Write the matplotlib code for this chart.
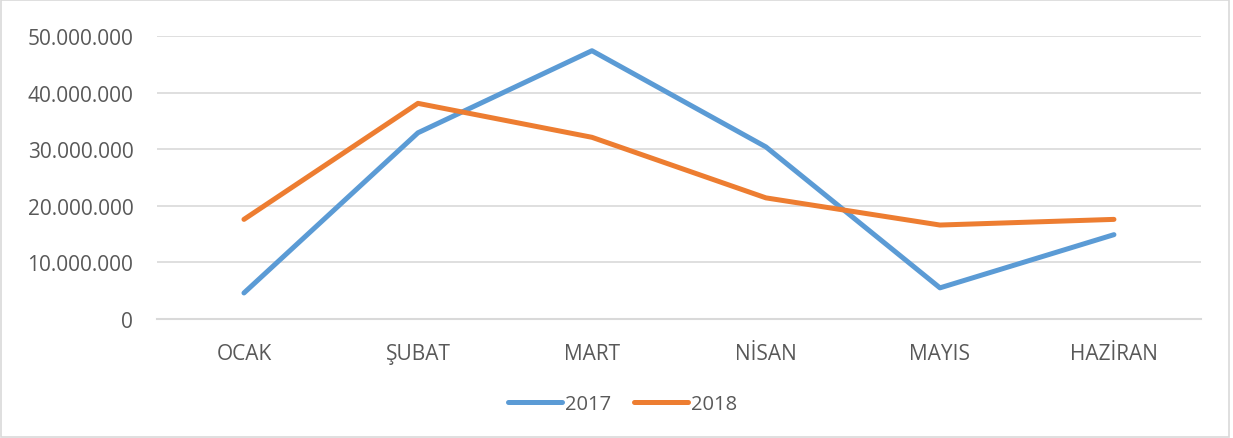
import matplotlib
matplotlib.use("Agg")
import matplotlib.pyplot as plt
from matplotlib.ticker import FuncFormatter, MultipleLocator
from matplotlib.patches import Rectangle

# aylar ve seriler (grafikten okunan yaklasik degerler)
months = ["OCAK", "ŞUBAT", "MART", "NİSAN", "MAYIS", "HAZİRAN"]
y2017 = [4600000, 32900000, 47400000, 30400000, 5500000, 14900000]
y2018 = [17600000, 38100000, 32100000, 21400000, 16600000, 17600000]

plt.rcParams['font.family'] = ['Open Sans', 'DejaVu Sans']
grey = "#595959"

fig = plt.figure(figsize=(12.33, 4.39), dpi=100)
ax = fig.add_axes([0.1273, 0.2711, 0.8467, 0.6446])

x = list(range(len(months)))
ax.plot(x, y2017, color="#5B9BD5", lw=3.6, label="2017", solid_capstyle="round", solid_joinstyle="round")
ax.plot(x, y2018, color="#ED7D31", lw=3.6, label="2018", solid_capstyle="round", solid_joinstyle="round")

ax.set_xlim(-0.5, len(months) - 0.5)
ax.set_ylim(0, 50000000)
ax.yaxis.set_major_locator(MultipleLocator(10000000))
ax.yaxis.set_major_formatter(FuncFormatter(lambda v, p: f"{int(v):,}".replace(",", ".")))
ax.set_xticks(x)
ax.set_xticklabels(months)

ax.grid(axis="y", color="#D9D9D9", lw=1.2)
ax.set_axisbelow(True)
for s in ["top", "right", "left"]:
    ax.spines[s].set_visible(False)
ax.spines["bottom"].set_color("#D9D9D9")
ax.spines["bottom"].set_linewidth(1.5)
ax.tick_params(length=0, labelsize=15, labelcolor=grey)
ax.tick_params(axis="x", pad=17)
ax.tick_params(axis="y", pad=17)

leg = fig.legend(loc="center", bbox_to_anchor=(0.505, 0.077), ncol=2, frameon=False,
                 fontsize=14.5, handlelength=2.7, handletextpad=0.15, columnspacing=1.1)
for t in leg.get_texts():
    t.set_color(grey)

fig.patches.append(Rectangle((0.001, 0.003), 0.996, 0.994, transform=fig.transFigure,
                             fill=False, edgecolor="#D9D9D9", lw=1.2))

fig.savefig("out.png", dpi=100)
